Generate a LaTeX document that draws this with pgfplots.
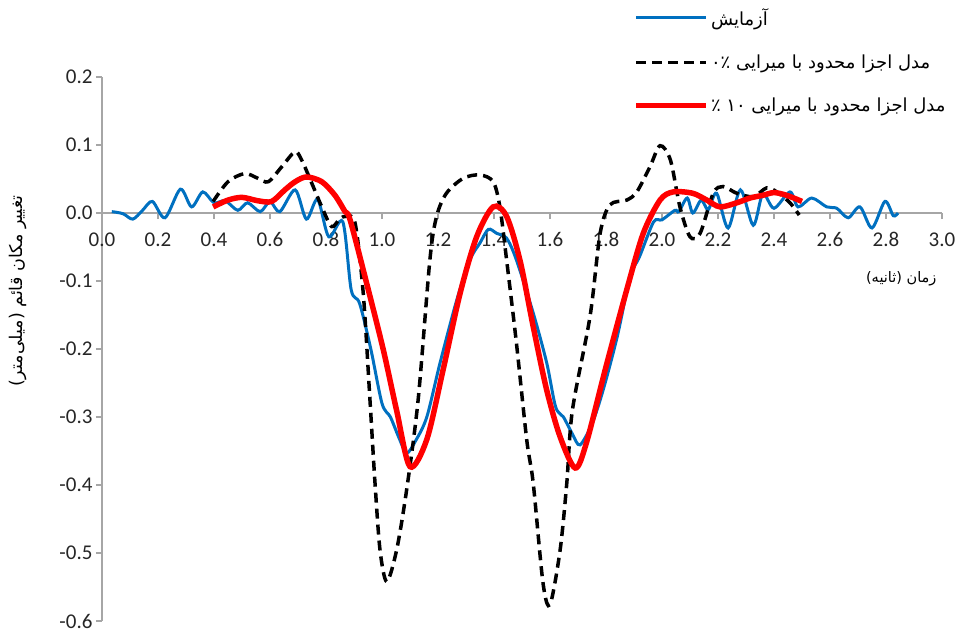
\documentclass[border=0pt]{standalone}
\usepackage{fontspec}
\usepackage{pgfplots}
\pgfplotsset{compat=1.18}
\setmainfont{Carlito}
\newfontfamily\arabicfont[Script=Arabic]{DejaVu Sans}
\TeXXeTstate=1
\definecolor{expblue}{HTML}{0070C0}
\definecolor{axisgray}{HTML}{A6A6A6}

\pgfplotstableread{
t v
0.035 0.002
0.075 -0.001
0.11 -0.009
0.145 0.004
0.18 0.017
0.225 -0.007
0.28 0.035
0.32 0.009
0.36 0.031
0.40 0.015
0.44 0.018
0.485 0.004
0.52 0.015
0.565 0.002
0.60 0.017
0.635 0.002
0.69 0.034
0.73 -0.009
0.77 0.02
0.81 -0.035
0.86 -0.013
0.89 -0.113
0.92 -0.133
0.96 -0.20
1.0 -0.28
1.03 -0.30
1.06 -0.33
1.088 -0.353
1.12 -0.335
1.16 -0.30
1.207 -0.221
1.267 -0.128
1.314 -0.069
1.35 -0.044
1.38 -0.024
1.41 -0.03
1.445 -0.037
1.48 -0.069
1.54 -0.147
1.588 -0.22
1.62 -0.285
1.648 -0.30
1.68 -0.325
1.707 -0.341
1.75 -0.31
1.79 -0.26
1.84 -0.182
1.886 -0.094
1.92 -0.064
1.97 -0.013
2.0 -0.01
2.046 0.004
2.06 0.002
2.09 0.022
2.11 0.0
2.14 0.019
2.165 0.005
2.195 0.029
2.236 -0.022
2.28 0.034
2.326 -0.018
2.36 0.028
2.40 0.007
2.457 0.031
2.486 0.009
2.535 0.022
2.588 0.009
2.624 0.007
2.665 -0.007
2.707 0.009
2.75 -0.022
2.796 0.017
2.826 -0.004
2.843 0.0
}\testdata

\pgfplotstableread{
t v
0.397 0.017
0.45 0.046
0.51 0.058
0.557 0.051
0.594 0.046
0.642 0.068
0.689 0.09
0.713 0.078
0.749 0.044
0.785 0.009
0.82 -0.02
0.85 -0.008
0.874 -0.005
0.904 -0.015
0.933 -0.118
0.957 -0.275
0.975 -0.397
0.993 -0.496
1.017 -0.542
1.052 -0.496
1.088 -0.407
1.129 -0.275
1.171 -0.069
1.195 -0.005
1.23 0.029
1.29 0.051
1.35 0.056
1.397 0.046
1.421 0.009
1.445 -0.069
1.48 -0.191
1.517 -0.334
1.54 -0.397
1.575 -0.544
1.6 -0.576
1.636 -0.496
1.66 -0.397
1.68 -0.29
1.743 -0.152
1.779 -0.03
1.814 0.012
1.874 0.019
1.91 0.031
1.957 0.068
1.993 0.099
2.03 0.078
2.064 0.009
2.1 -0.035
2.136 -0.03
2.183 0.029
2.218 0.039
2.267 0.029
2.326 0.024
2.374 0.037
2.41 0.031
2.457 0.015
2.49 -0.003
}\femzero

\pgfplotstableread{
t v
0.397 0.009
0.45 0.019
0.50 0.023
0.557 0.018
0.606 0.017
0.653 0.034
0.69 0.046
0.73 0.053
0.785 0.046
0.832 0.026
0.868 0.002
0.886 -0.01
0.945 -0.103
1.004 -0.2
1.052 -0.29
1.10 -0.373
1.16 -0.333
1.218 -0.231
1.279 -0.118
1.338 -0.035
1.397 0.009
1.445 -0.005
1.493 -0.07
1.54 -0.167
1.588 -0.26
1.636 -0.329
1.69 -0.375
1.73 -0.338
1.80 -0.226
1.874 -0.113
1.933 -0.03
1.993 0.019
2.04 0.031
2.11 0.029
2.16 0.019
2.207 0.009
2.267 0.015
2.314 0.022
2.36 0.026
2.40 0.03
2.445 0.026
2.50 0.017
}\femten

\begin{document}
\begin{tikzpicture}
\useasboundingbox (-102pt,-14pt) rectangle (858pt,621pt);
\begin{axis}[
    x=280pt, y=680pt,
    xmin=0, xmax=3, ymin=-0.6, ymax=0.2,
    axis x line*=middle, axis y line*=left,
    axis line style={axisgray, line width=1.2pt},
    every tick/.style={axisgray, line width=1.2pt},
    major tick length=6pt,
    tick align=outside,
    hide obscured x ticks=false, hide obscured y ticks=false,
    xtick={0,0.2,0.4,0.6,0.8,1.0,1.2,1.4,1.6,1.8,2.0,2.2,2.4,2.6,2.8,3.0},
    ytick={-0.6,-0.5,-0.4,-0.3,-0.2,-0.1,0,0.1,0.2},
    xticklabel={\pgfmathprintnumber[fixed,fixed zerofill,precision=1,assume math mode=true]{\tick}},
    yticklabel={\pgfmathprintnumber[fixed,fixed zerofill,precision=1,assume math mode=true]{\tick}},
    ticklabel style={font=\fontsize{21}{24}\selectfont, text=black!85},
    xticklabel style={yshift=-10pt},
    xlabel={\arabicfont\beginR زمان (ثانیه)\endR},
    ylabel={\arabicfont\beginR تغییر مکان قائم (میلی‌متر)\endR},
    xlabel style={at={(axis description cs:1,0.75)}, anchor=north east, yshift=-55pt, xshift=-2pt, font=\fontsize{14.5}{17}\selectfont},
    ylabel style={at={([xshift=-84pt]axis description cs:0,0.607)}, anchor=center, rotate=0, font=\fontsize{17.5}{20}\selectfont},
    legend style={at={(axis description cs:0.629,1.134)}, anchor=north west, draw=none, fill=none,
        font=\arabicfont\fontsize{18}{21}\selectfont, row sep=24pt},
    legend cell align=left,
    legend image code/.code={\draw[#1] (0pt,0pt) -- (70pt,0pt);},
]
\addplot[expblue, line width=3pt, smooth, tension=0.5] table[x=t,y=v] {\testdata};
\addlegendentry{\beginR آزمایش\endR}
\addplot[black, line width=3.5pt, dash pattern=on 10pt off 6pt, smooth, tension=0.5] table[x=t,y=v] {\femzero};
\addlegendentry{\beginR مدل اجزا محدود با میرایی ۰٪\endR}
\addplot[red, line width=5.5pt, smooth, tension=0.5] table[x=t,y=v] {\femten};
\addlegendentry{\beginR مدل اجزا محدود با میرایی ۱۰ ٪\endR}
\end{axis}
\end{tikzpicture}
\end{document}
